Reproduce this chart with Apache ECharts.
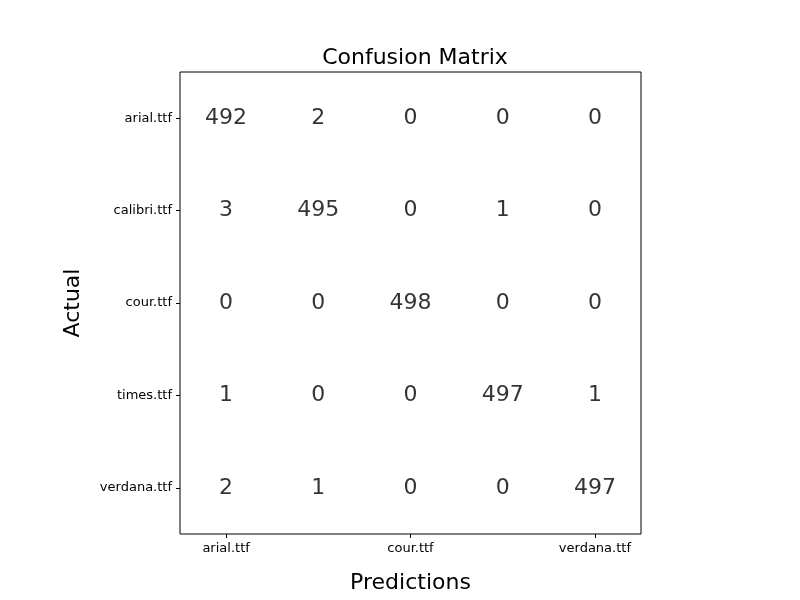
<!DOCTYPE html>
<html>
<head>
<meta charset="utf-8">
<script src="https://cdn.jsdelivr.net/npm/echarts@6/dist/echarts.min.js"></script>
<style>html,body{margin:0;padding:0;background:#fff}#chart{width:800px;height:600px}</style>
</head>
<body>
<div id="chart"></div>
<script>
var labels = ['arial.ttf', 'calibri.ttf', 'cour.ttf', 'times.ttf', 'verdana.ttf'];
// rows = actual, columns = predictions
var matrix = [
	[492, 2, 0, 0, 0],
	[3, 495, 0, 1, 0],
	[0, 0, 498, 0, 0],
	[1, 0, 0, 497, 1],
	[2, 1, 0, 0, 497]
];

var cells = [];
for (var r = 0; r < matrix.length; r++) {
	for (var c = 0; c < matrix[r].length; c++) {
		cells.push([labels[c], labels[r], matrix[r][c]]);
	}
}

var chart = echarts.init(document.getElementById('chart'));
var font = 'DejaVu Sans';
chart.setOption({
	animation: false,
	title: {
		text: 'Confusion Matrix', left: 410, top: 42, textAlign: 'center',
		textStyle: {fontFamily: font, fontSize: 22, fontWeight: 'normal', color: '#000'}
	},
	grid: {left: 180, right: 159, top: 72, bottom: 66, show: true, borderColor: '#000', borderWidth: 1},
	xAxis: {
		type: 'category', data: labels,
		name: 'Predictions', nameLocation: 'middle', nameGap: 38,
		nameTextStyle: {fontFamily: font, fontSize: 22, color: '#000'},
		axisLine: {show: false},
		axisTick: {show: true, alignWithLabel: true, length: 4, lineStyle: {color: '#000'}},
		axisLabel: {fontFamily: font, fontSize: 13, color: '#000', margin: 8},
		splitLine: {show: false}
	},
	yAxis: {
		type: 'category', data: labels, inverse: true,
		name: 'Actual', nameLocation: 'middle', nameGap: 96,
		nameTextStyle: {fontFamily: font, fontSize: 22, color: '#000'},
		axisLine: {show: false},
		axisTick: {show: true, alignWithLabel: true, length: 4, lineStyle: {color: '#000'}},
		axisLabel: {fontFamily: font, fontSize: 13, color: '#000', margin: 8},
		splitLine: {show: false}
	},
	series: [{
		type: 'scatter',
		symbolSize: 1,
		itemStyle: {color: 'rgba(0,0,0,0)'},
		label: {
			show: true, position: 'inside',
			formatter: function (p) { return p.value[2]; },
			fontFamily: font, fontSize: 22, color: '#000'
		},
		data: cells
	}]
});
</script>
</body>
</html>
